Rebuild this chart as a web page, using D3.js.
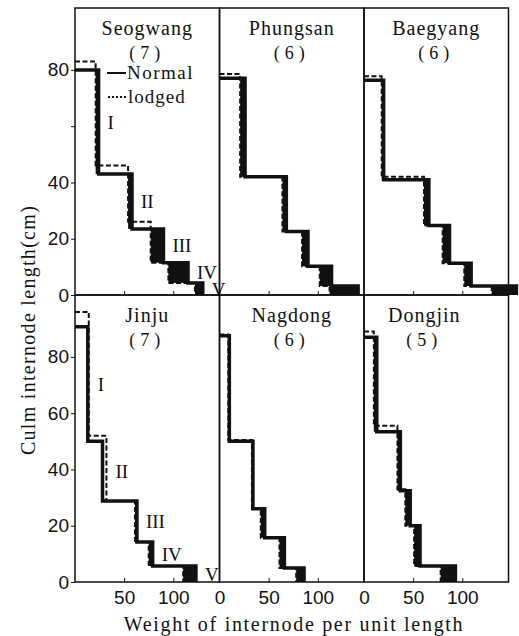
<!DOCTYPE html>
<html>
<head>
<meta charset="utf-8">
<script src="https://cdn.jsdelivr.net/npm/d3@7"></script>
<style>
    body { margin: 0; background: #fff; }
    text { fill: #111; }
</style>
</head>
<body>
<svg id="chart" width="519" height="636"></svg>
<script>
// panels, row by row
var varieties = ['Seogwang', 'Phungsan', 'Baegyang', 'Jinju', 'Nagdong', 'Dongjin'];
var internodeCounts = [7, 6, 6, 7, 6, 5];
var internodeNames = ['I', 'II', 'III', 'IV', 'V'];
var numberedPanels = ['Seogwang', 'Jinju'];

// height (cm) at the top of internodes I..V
var normalTops = [
    [80, 43, 23.5, 11.5, 4.3],
    [77, 42, 22.6, 10.2, 3.2],
    [76.3, 41, 24.7, 11.3, 3.2],
    [90.7, 50, 28.8, 14.2, 5.7],
    [87.5, 50, 26, 15.7, 5],
    [87, 53.4, 32.4, 20, 5.7]
];
var lodgedTops = [
    [83, 46, 26, 11.5, 4.3],
    [78.5, 42, 22.6, 10.2, 3.2],
    [77.7, 42, 24.7, 11.3, 3.2],
    [96, 52, 28.8, 14.2, 5.7],
    [88, 50.5, 26, 15.7, 5],
    [89, 55.5, 33, 20, 5.7]
];
// weight of internode per unit length, internodes I..V
var normalWeights = [
    [24, 58, 90, 115, 130],
    [26, 68, 90, 114, 141],
    [20, 66, 87, 109, 155],
    [13, 28, 63, 79, 123],
    [10, 34, 46, 66, 86],
    [13, 37, 47, 57, 93]
];
var lodgedWeights = [
    [21, 54, 77, 95, 122],
    [21, 64, 84, 102, 112],
    [18, 61, 80, 102, 130],
    [14, 32, 61, 75, 110],
    [9, 33, 42, 61, 78],
    [10, 34, 42, 51, 78]
];

var yTicks = [0, 20, 40, 60, 80];
var xTicks = [0, 50, 100];

var svg = d3.select('#chart');
var left = 75, right = 508.5, rowTops = [8, 295], rowH = 287;
var colW = (right - left) / 3;
var serif = 'Liberation Serif, DejaVu Serif, serif';
var sans = 'Liberation Sans, Arial, sans-serif';

var y = d3.scaleLinear().domain([0, 102]).range([rowH, 0]);
var x = d3.scaleLinear().domain([0, 147]).range([0, colW]);

var line = d3.line()
    .x(function(d) { return x(d[0]); })
    .y(function(d) { return y(d[1]); });

function stepPoints(tops, weights) {
    var pts = [[0, tops[0]]];
    weights.forEach(function(w, i) {
        pts.push([w, tops[i]]);
        pts.push([w, i + 1 < tops.length ? tops[i + 1] : 0]);
    });
    return pts;
}

varieties.forEach(function(name, p) {
    var row = Math.floor(p / 3), col = p % 3;
    var g = svg.append('g')
        .attr('transform', 'translate(' + (left + col * colW) + ',' + rowTops[row] + ')');

    g.append('rect')
        .attr('width', colW).attr('height', rowH)
        .attr('fill', 'none').attr('stroke', '#111').attr('stroke-width', 1.5);

    // black band where the lodged culm is lighter
    var nT = normalTops[p], nW = normalWeights[p], lW = lodgedWeights[p];
    nW.forEach(function(w, i) {
        if (lW[i] >= w) return;
        var bottom = i + 1 < nT.length ? nT[i + 1] : 0;
        g.append('rect')
            .attr('x', x(lW[i])).attr('width', x(w) - x(lW[i]))
            .attr('y', y(nT[i])).attr('height', y(bottom) - y(nT[i]))
            .attr('fill', '#111');
    });

    g.append('path')
        .attr('d', line(stepPoints(lodgedTops[p], lW)))
        .attr('fill', 'none').attr('stroke', '#111')
        .attr('stroke-width', 2).attr('stroke-dasharray', '5,2.5');

    g.append('path')
        .attr('d', line(stepPoints(nT, nW)))
        .attr('fill', 'none').attr('stroke', '#111')
        .attr('stroke-width', 3.5).attr('stroke-linejoin', 'miter');

    // titles
    var cx = colW / 2 + (name === 'Dongjin' ? -12 : 0);
    g.append('text')
        .attr('x', cx).attr('y', 27)
        .attr('text-anchor', 'middle')
        .style('font-family', serif).style('font-size', '20px').style('letter-spacing', '1px')
        .text(name);
    g.append('text')
        .attr('x', cx).attr('y', 51)
        .attr('text-anchor', 'middle')
        .style('font-family', serif).style('font-size', '18px').style('letter-spacing', '5px')
        .text('(' + internodeCounts[p] + ')');

    // internode numbers
    if (numberedPanels.indexOf(name) >= 0) {
        nW.forEach(function(w, i) {
            var bottom = i + 1 < nT.length ? nT[i + 1] : 0;
            g.append('text')
                .attr('x', x(Math.max(w, lW[i])) + 9)
                .attr('y', y((nT[i] + bottom) / 2))
                .attr('dy', '0.35em')
                .style('font-family', serif).style('font-size', '19px')
                .text(internodeNames[i]);
        });
    }

    // small inner ticks on the x axis
    g.append('g')
        .attr('transform', 'translate(0,' + rowH + ')')
        .call(d3.axisTop(x).tickValues([50, 100]).tickSize(4).tickFormat(''))
        .call(function(a) { a.select('.domain').remove(); a.selectAll('line').attr('stroke', '#111'); });

    if (row === 1) {
        var labels = g.append('g')
            .attr('transform', 'translate(0,' + rowH + ')')
            .call(d3.axisBottom(x).tickValues(col === 0 ? xTicks.slice(1) : xTicks).tickSize(0).tickPadding(9)
                .tickFormat(d3.format('d')));
        labels.select('.domain').remove();
        labels.selectAll('text').style('font-family', sans).style('font-size', '19px').attr('fill', '#111');
    }

    if (col === 0) {
        var ya = g.append('g')
            .call(d3.axisLeft(y).tickValues(yTicks).tickSize(4).tickPadding(2)
                .tickFormat(function(d) { return row === 0 && d === 60 ? '' : d; }));
        ya.select('.domain').remove();
        ya.selectAll('line').attr('stroke', '#111');
        ya.selectAll('text').style('font-family', sans).style('font-size', '19px').attr('fill', '#111');
    }
});

// legend in the first panel
var legend = svg.append('g').attr('transform', 'translate(107,0)');
legend.append('line').attr('x1', 0).attr('x2', 19).attr('y1', 73).attr('y2', 73)
    .attr('stroke', '#111').attr('stroke-width', 2);
legend.append('line').attr('x1', 1).attr('x2', 20).attr('y1', 97).attr('y2', 97)
    .attr('stroke', '#111').attr('stroke-width', 2).attr('stroke-dasharray', '2,2');
legend.append('text').attr('x', 20).attr('y', 79)
    .style('font-family', serif).style('font-size', '19px').style('letter-spacing', '1.5px')
    .text('Normal');
legend.append('text').attr('x', 21).attr('y', 103)
    .style('font-family', serif).style('font-size', '19px').style('letter-spacing', '1px')
    .text('lodged');

svg.append('text')
    .attr('transform', 'translate(35,330) rotate(-90)')
    .attr('text-anchor', 'middle')
    .style('font-family', serif).style('font-size', '20px').style('letter-spacing', '1.3px')
    .text('Culm internode length(cm)');

svg.append('text')
    .attr('x', 294).attr('y', 631)
    .attr('text-anchor', 'middle')
    .style('font-family', serif).style('font-size', '20px').style('letter-spacing', '1.7px')
    .text('Weight of internode per unit length');
</script>
</body>
</html>
